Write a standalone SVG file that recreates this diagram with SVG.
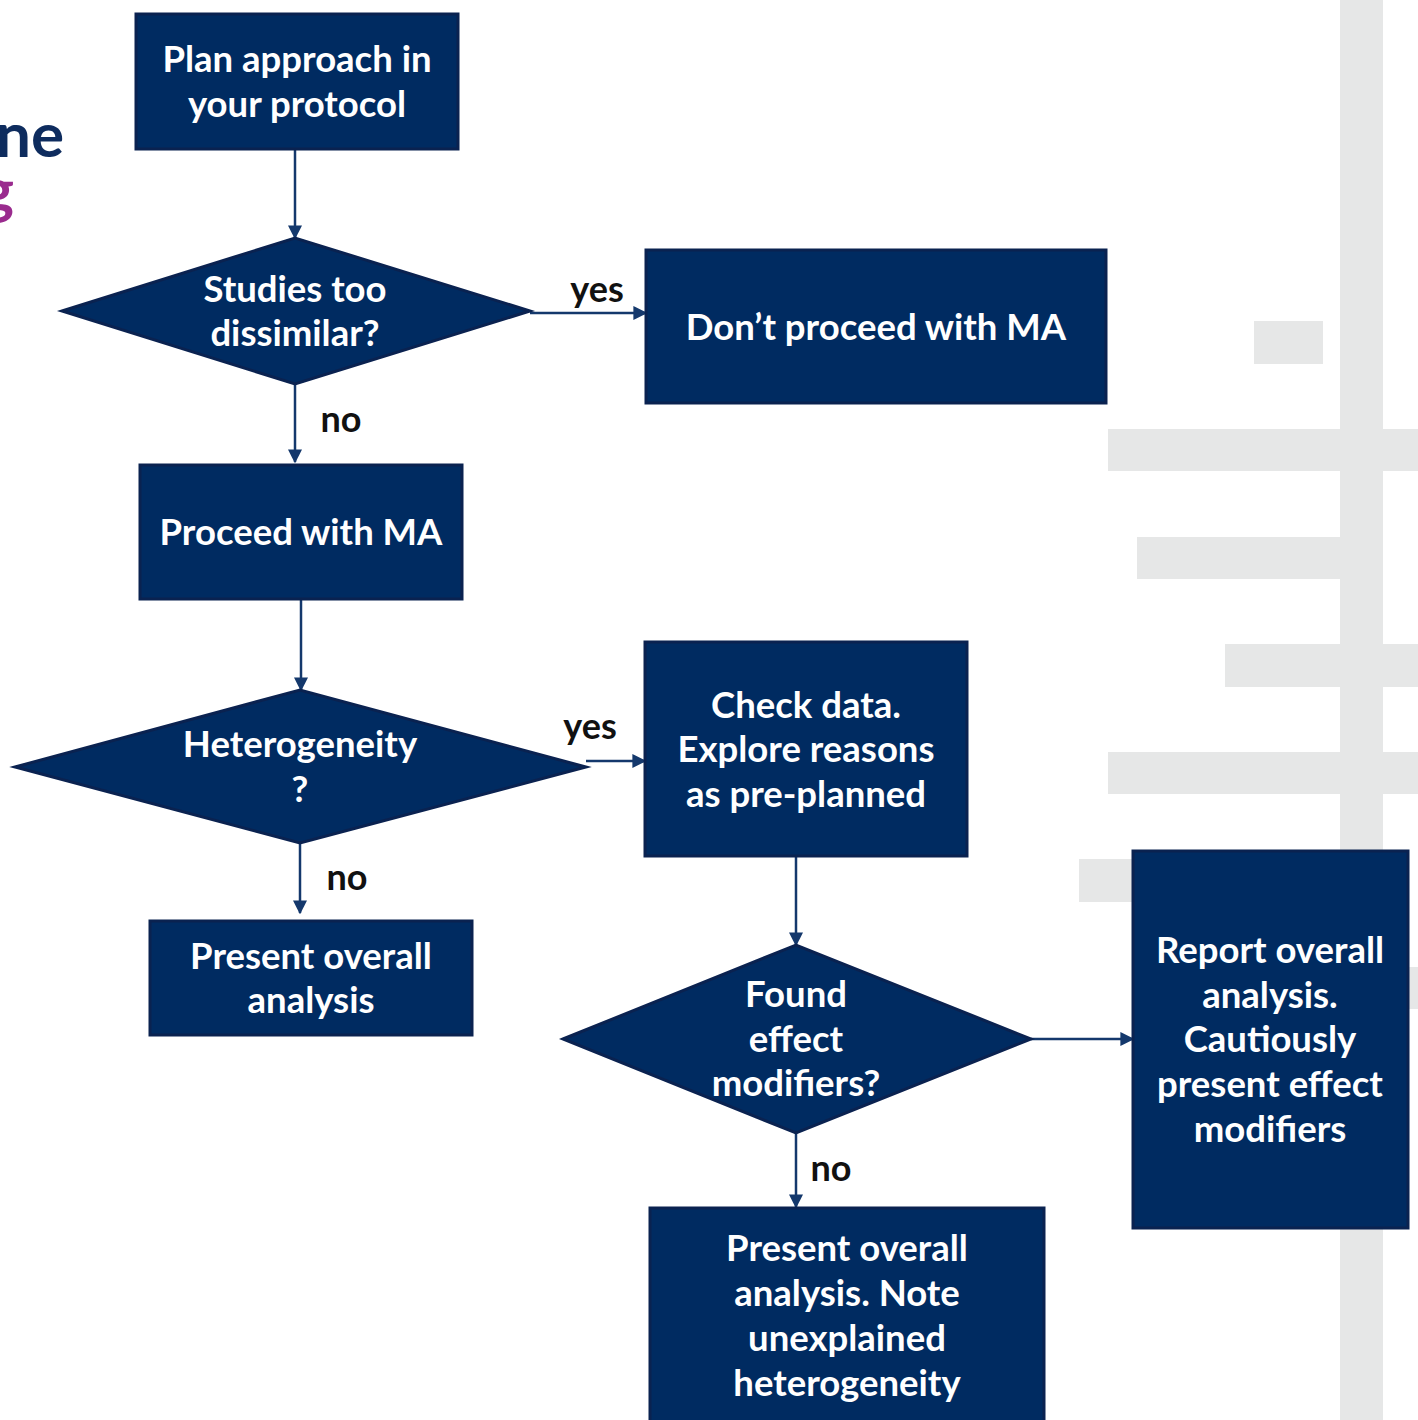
<svg xmlns="http://www.w3.org/2000/svg" width="1418" height="1420" viewBox="0 0 1418 1420">
<defs>
<style>
.bg{fill:#e6e7e7}
.node{fill:#002b61;stroke:#0a2250;stroke-width:3}
.t{fill:#ffffff;font-family:Lato,"Noto Sans",sans-serif;font-weight:700;font-size:36.5px;text-anchor:middle;dominant-baseline:central}
.lbl{fill:#111111;font-family:Lato,"Noto Sans",sans-serif;font-weight:700;font-size:36px;text-anchor:middle;dominant-baseline:central}
.edge{stroke:#14386c;stroke-width:2.5;fill:none;marker-end:url(#ah)}
</style>
<marker id="ah" viewBox="0 0 10 10" refX="9" refY="5" markerWidth="14" markerHeight="14" markerUnits="userSpaceOnUse" orient="auto">
<path d="M0,0 L10,5 L0,10 z" fill="#14386c"/>
</marker>
</defs>
<rect width="1418" height="1420" fill="#ffffff"/>
<g id="background">
<rect class="bg" x="1340" y="0" width="43" height="1420"/>
<rect class="bg" x="1254" y="321" width="69" height="43"/>
<rect class="bg" x="1108" y="429" width="310" height="42"/>
<rect class="bg" x="1137" y="537" width="203" height="42"/>
<rect class="bg" x="1225" y="644" width="193" height="43"/>
<rect class="bg" x="1108" y="752" width="310" height="42"/>
<rect class="bg" x="1079" y="859" width="261" height="43"/>
<rect class="bg" x="1383" y="967" width="35" height="42"/>
<text x="64" y="133" font-family="Lato,'Noto Sans',sans-serif" font-weight="700" font-size="62" fill="#0e2c5e" text-anchor="end" dominant-baseline="central">ne</text>
<text x="14" y="188" font-family="Lato,'Noto Sans',sans-serif" font-weight="700" font-size="62" fill="#9a2b8e" text-anchor="end" dominant-baseline="central">g</text>
</g>
<g id="connectors">
<path class="edge" d="M295,149 V238"/>
<path class="edge" d="M530,313 H646"/>
<path class="edge" d="M295,384 V462"/>
<path class="edge" d="M301,599 V690"/>
<path class="edge" d="M586,761 H645"/>
<path class="edge" d="M300,843 V913"/>
<path class="edge" d="M796,856 V945"/>
<path class="edge" d="M1031,1039 H1133"/>
<path class="edge" d="M796,1133 V1207"/>
<text class="lbl" x="597" y="288">yes</text>
<text class="lbl" x="341" y="418">no</text>
<text class="lbl" x="590" y="725">yes</text>
<text class="lbl" x="347" y="876">no</text>
<text class="lbl" x="831" y="1167">no</text>
</g>
<g id="n1"><rect class="node" x="136" y="14" width="322" height="135"/>
<text class="t" x="297" y="58">Plan approach in</text><text class="t" x="297" y="103">your protocol</text></g>
<g id="n2"><polygon class="node" points="62,311 295,238 530,311 295,384"/>
<text class="t" x="295" y="288">Studies too</text><text class="t" x="295" y="332">dissimilar?</text></g>
<g id="n3"><rect class="node" x="646" y="250" width="460" height="153"/>
<text class="t" x="876" y="326">Don’t proceed with MA</text></g>
<g id="n4"><rect class="node" x="140" y="465" width="322" height="134"/>
<text class="t" x="301" y="531">Proceed with MA</text></g>
<g id="n5"><polygon class="node" points="15,767 300,690 586,767 300,843"/>
<text class="t" x="300" y="743">Heterogeneity</text><text class="t" x="300" y="788">?</text></g>
<g id="n6"><rect class="node" x="645" y="642" width="322" height="214"/>
<text class="t" x="806" y="704">Check data.</text><text class="t" x="806" y="748">Explore reasons</text><text class="t" x="806" y="793">as pre-planned</text></g>
<g id="n7"><rect class="node" x="150" y="921" width="322" height="114"/>
<text class="t" x="311" y="955">Present overall</text><text class="t" x="311" y="999">analysis</text></g>
<g id="n8"><polygon class="node" points="563,1039 796,945 1031,1039 796,1133"/>
<text class="t" x="796" y="993">Found</text><text class="t" x="796" y="1038">effect</text><text class="t" x="796" y="1082">modifiers?</text></g>
<g id="n9"><rect class="node" x="1133" y="851" width="275" height="377"/>
<text class="t" x="1270" y="949">Report overall</text><text class="t" x="1270" y="994">analysis.</text><text class="t" x="1270" y="1038">Cautiously</text><text class="t" x="1270" y="1083">present effect</text><text class="t" x="1270" y="1128">modifiers</text></g>
<g id="n10"><rect class="node" x="650" y="1208" width="394" height="230"/>
<text class="t" x="847" y="1247">Present overall</text><text class="t" x="847" y="1292">analysis. Note</text><text class="t" x="847" y="1337">unexplained</text><text class="t" x="847" y="1382">heterogeneity</text></g>
</svg>
